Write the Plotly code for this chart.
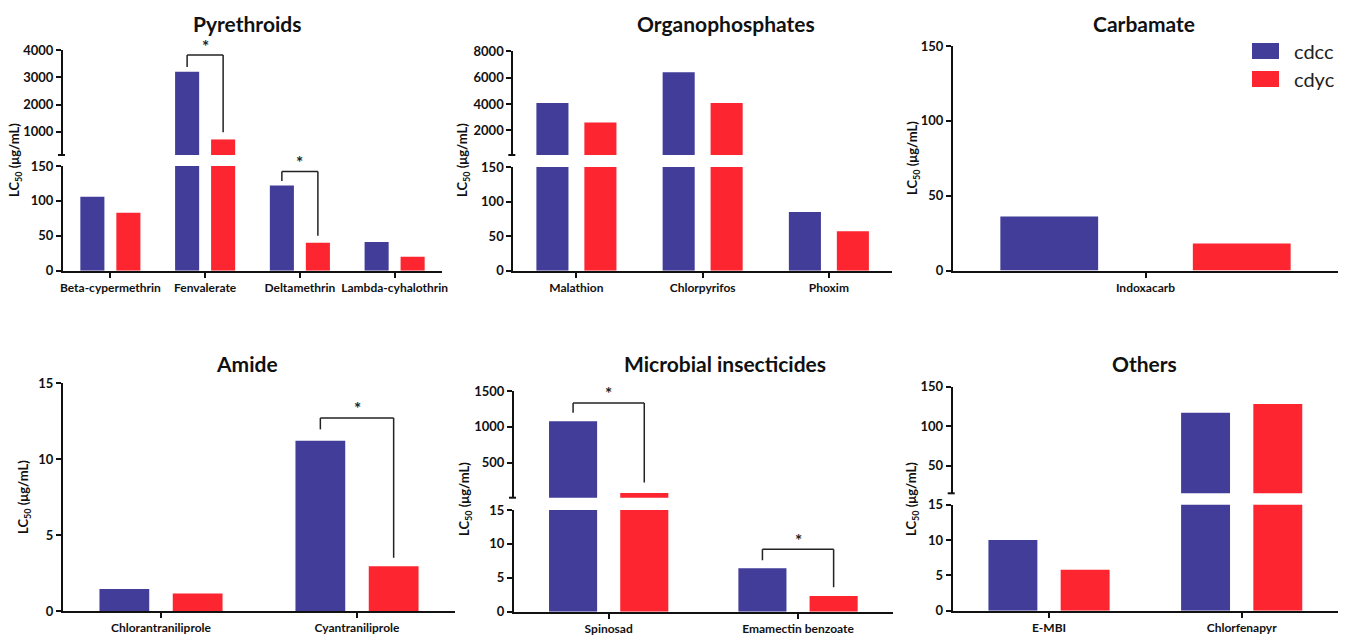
import plotly.graph_objects as go

# ---------------- data ----------------
pyr_cats = ["Beta-cypermethrin", "Fenvalerate", "Deltamethrin", "Lambda-cyhalothrin"]
pyr_cdcc = [106, 3200, 122, 41]
pyr_cdyc = [83, 720, 40, 20]

org_cats = ["Malathion", "Chlorpyrifos", "Phoxim"]
org_cdcc = [4080, 6400, 85]
org_cdyc = [2600, 4080, 57]

carb_cats = ["Indoxacarb"]
carb_cdcc = [36]
carb_cdyc = [18]

amide_cats = ["Chlorantraniliprole", "Cyantraniliprole"]
amide_cdcc = [1.45, 11.2]
amide_cdyc = [1.15, 2.95]

mic_cats = ["Spinosad", "Emamectin benzoate"]
mic_cdcc = [1080, 6.4]
mic_cdyc = [81, 2.3]

oth_cats = ["E-MBI", "Chlorfenapyr"]
oth_cdcc = [10, 117]
oth_cdyc = [5.8, 128]

series_names = ["cdcc", "cdyc"]

# ---------------- style / layout ----------------
W, H = 1349, 636
BLUE = "#413D99"
RED = "#FC2530"
FONT = "Lato"
colors = [BLUE, RED]


def fx(px):
    return px / W


def fy(px):
    return 1 - px / H


panels = [
    dict(title="Pyrethroids", cats=pyr_cats, vals=[pyr_cdcc, pyr_cdyc],
         xpx=(63, 442), low=(166, 270.7), up=(50, 155),
         lrange=[0, 150], lticks=[0, 50, 100, 150],
         urange=[150, 4000], uticks=[1000, 2000, 3000, 4000],
         off=0.19, tpos=(247, 23), ytpos=(15, 160)),
    dict(title="Organophosphates", cats=org_cats, vals=[org_cdcc, org_cdyc],
         xpx=(513.3, 892), low=(167, 270.7), up=(51, 155),
         lrange=[0, 150], lticks=[0, 50, 100, 150],
         urange=[150, 8000], uticks=[2000, 4000, 6000, 8000],
         off=0.19, tpos=(725.5, 23), ytpos=(463, 160)),
    dict(title="Carbamate", cats=carb_cats, vals=[carb_cdcc, carb_cdyc],
         xpx=(953, 1338), low=(46, 270.5), up=None,
         lrange=[0, 150], lticks=[0, 50, 100, 150],
         off=0.25, tpos=(1144, 23), ytpos=(913, 158)),
    dict(title="Amide", cats=amide_cats, vals=[amide_cdcc, amide_cdyc],
         xpx=(63, 455), low=(383, 611), up=None,
         lrange=[0, 15], lticks=[0, 5, 10, 15],
         off=0.187, tpos=(247, 363), ytpos=(24, 497)),
    dict(title="Microbial insecticides", cats=mic_cats, vals=[mic_cdcc, mic_cdyc],
         xpx=(514, 892.7), low=(510, 611.7), up=(391, 497.7),
         lrange=[0, 15], lticks=[0, 5, 10, 15],
         urange=[15, 1500], uticks=[500, 1000, 1500],
         off=0.188, tpos=(725, 363), ytpos=(465, 499)),
    dict(title="Others", cats=oth_cats, vals=[oth_cdcc, oth_cdyc],
         xpx=(952.7, 1338), low=(504.7, 610.7), up=(386.7, 493.3),
         lrange=[0, 15], lticks=[0, 5, 10, 15],
         urange=[15, 150], uticks=[50, 100, 150],
         off=0.1875, tpos=(1144, 363), ytpos=(912, 499)),
]

# significance brackets: (panel index, category index, segment, y_top, y_left_end, y_right_end)
brackets = [
    (0, 1, "up", 3815, 3380, 985),
    (0, 2, "low", 142, 128.5, 50),
    (3, 1, "low", 12.7, 11.95, 3.5),
    (4, 0, "up", 1334, 1196, 228),
    (4, 1, "low", 9.2, 7.6, 3.6),
]

BAR_W = 0.254

fig = go.Figure()
layout = dict(
    width=W, height=H, margin=dict(l=0, r=0, t=0, b=0, autoexpand=False),
    plot_bgcolor="white", paper_bgcolor="white", showlegend=False,
    font=dict(family=FONT, color="#111"),
)
annotations = []
shapes = []

axis_line = dict(showline=True, linecolor="#111", linewidth=2, ticks="outside",
                 ticklen=5, tickwidth=2, tickcolor="#111", showgrid=False,
                 zeroline=False, automargin=False)

ax_i = 0
seg_axes = {}
for pi, p in enumerate(panels):
    n = len(p["cats"])
    xr = [-0.5, n - 0.5]
    xdom = [fx(p["xpx"][0]), fx(p["xpx"][1])]
    segs = [("low", p["low"], p["lrange"], p["lticks"])]
    if p["up"] is not None:
        segs.append(("up", p["up"], p["urange"], p["uticks"]))
    for seg, ypx, yr, yt in segs:
        ax_i += 1
        xn = "xaxis" if ax_i == 1 else f"xaxis{ax_i}"
        yn = "yaxis" if ax_i == 1 else f"yaxis{ax_i}"
        xref = "x" if ax_i == 1 else f"x{ax_i}"
        yref = "y" if ax_i == 1 else f"y{ax_i}"
        seg_axes[(pi, seg)] = (xref, yref)
        xa = dict(domain=xdom, anchor=yref, type="category", range=xr,
                  categoryorder="array", categoryarray=p["cats"],
                  tickfont=dict(family=FONT, size=12, weight="bold", color="#111"),
                  **axis_line)
        if seg == "up":
            xa.update(showline=False, ticks="", showticklabels=False)
            # break mark at the bottom of the upper segment
            shapes.append(dict(type="line", xref="paper", yref="paper",
                               x0=fx(p["xpx"][0] - 5), x1=fx(p["xpx"][0] + 2),
                               y0=fy(ypx[1]), y1=fy(ypx[1]),
                               line=dict(color="#111", width=2)))
        ya = dict(domain=[fy(ypx[1]), fy(ypx[0])], anchor=xref, range=yr,
                  tickmode="array", tickvals=yt, ticktext=[str(v) for v in yt],
                  tickfont=dict(family=FONT, size=13, weight="bold", color="#111"),
                  **axis_line)
        layout[xn] = xa
        layout[yn] = ya
        for si in range(2):
            offset = (-p["off"] if si == 0 else p["off"]) - BAR_W / 2
            vals = p["vals"][si]
            if seg == "up":
                vals = [v if v > yr[0] else None for v in vals]
            fig.add_trace(go.Bar(
                x=p["cats"], y=vals, name=series_names[si],
                marker=dict(color=colors[si], line=dict(width=0)),
                width=BAR_W, offset=offset, xaxis=xref, yaxis=yref,
                showlegend=False, hoverinfo="x+y+name",
            ))
    # panel title
    annotations.append(dict(
        text=f"<b>{p['title']}</b>", x=fx(p["tpos"][0]), y=fy(p["tpos"][1]),
        xref="paper", yref="paper", showarrow=False, xanchor="center", yanchor="middle",
        font=dict(family=FONT, size=21, color="#111")))
    # y axis title
    annotations.append(dict(
        text="<b>LC<sub>50</sub> (μg/mL)</b>", x=fx(p["ytpos"][0]), y=fy(p["ytpos"][1]),
        xref="paper", yref="paper", showarrow=False, textangle=-90,
        xanchor="center", yanchor="middle",
        font=dict(family=FONT, size=13, color="#111")))

# brackets
for pi, ci, seg, ytop, yl, yrr in brackets:
    xref, yref = seg_axes[(pi, seg)]
    off = panels[pi]["off"]
    x1, x2 = ci - off, ci + off
    for (a, b, c, d) in [(x1, yl, x1, ytop), (x1, ytop, x2, ytop), (x2, ytop, x2, yrr)]:
        shapes.append(dict(type="line", xref=xref, yref=yref, x0=a, y0=b, x1=c, y1=d,
                           line=dict(color="#222", width=1.5)))
    annotations.append(dict(text="<b>*</b>", x=ci, y=ytop, xref=xref, yref=yref,
                            showarrow=False, xanchor="center", yanchor="middle",
                            yshift=9,
                            font=dict(family=FONT, size=17, color="#222")))

# legend (drawn)
for si, (y0, y1) in enumerate([(43, 59), (71, 87)]):
    shapes.append(dict(type="rect", xref="paper", yref="paper",
                       x0=fx(1252), x1=fx(1279), y0=fy(y1), y1=fy(y0),
                       fillcolor=colors[si], line=dict(width=0)))
    annotations.append(dict(text=series_names[si], x=fx(1292), y=fy((y0 + y1) / 2),
                            xref="paper", yref="paper", showarrow=False,
                            xanchor="left", yanchor="middle",
                            font=dict(family=FONT, size=20, color="#222")))

layout["annotations"] = annotations
layout["shapes"] = shapes
fig.update_layout(**layout)
fig.write_html(
    "out.html",
    config={"displayModeBar": False},
    post_script=(
        "document.documentElement.style.margin='0';"
        "document.body.style.margin='0';document.body.style.padding='0';"
        "document.documentElement.style.overflow='hidden';"
    ),
)
